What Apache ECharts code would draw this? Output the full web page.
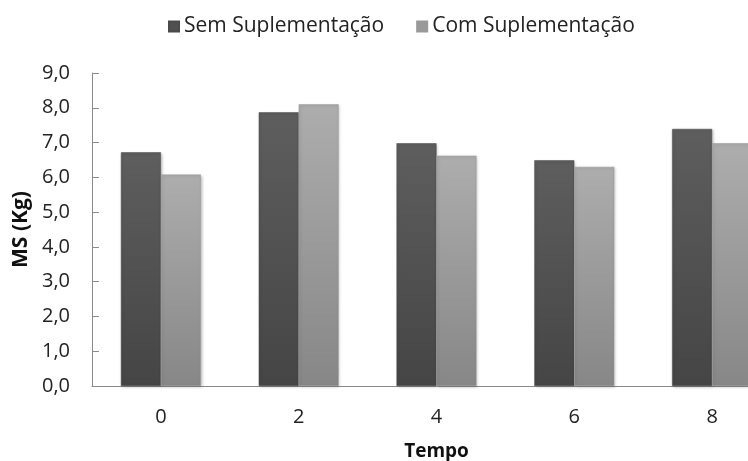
<!DOCTYPE html>
<html>
<head>
<meta charset="utf-8">
<script src="https://cdn.jsdelivr.net/npm/echarts@6/dist/echarts.min.js"></script>
<style>
  html, body { margin: 0; padding: 0; background: #fff; overflow: hidden; }
  /* o grafico original esta cortado a direita: a area continua alem da janela */
  #chart { width: 781px; height: 461px; }
</style>
</head>
<body>
<div id="chart"></div>
<script>
// tempos e valores
var categorias = ["0", "2", "4", "6", "8"];
var semSuplementacao = [6.72, 7.87, 6.98, 6.49, 7.39];
var comSuplementacao = [6.08, 8.10, 6.62, 6.30, 6.98];
var nomesSeries = ["Sem Suplementação", "Com Suplementação"];

var fonte = "'Open Sans', sans-serif";

function gradiente(topo, base) {
  return new echarts.graphic.LinearGradient(0, 0, 0, 1, [
    { offset: 0, color: topo },
    { offset: 1, color: base }
  ]);
}

var chart = echarts.init(document.getElementById("chart"));

var option = {
  animation: false,
  textStyle: { fontFamily: fonte },
  legend: {
    top: 16,
    left: 168,
    padding: 0,
    itemWidth: 10,
    itemHeight: 10,
    itemGap: 32,
    icon: "rect",
    textStyle: { fontSize: 21, color: "#222", fontFamily: fonte },
    data: [
      { name: nomesSeries[0], itemStyle: { color: "#505050" } },
      { name: nomesSeries[1], itemStyle: { color: "#9a9a9a" } }
    ]
  },
  grid: { left: 92, top: 73, right: 0, height: 313, outerBoundsMode: "none" },
  xAxis: {
    type: "category",
    data: categorias,
    name: "Tempo",
    nameLocation: "middle",
    nameGap: 56,
    nameTextStyle: { fontSize: 19, fontWeight: "bold", color: "#111" },
    axisLine: { lineStyle: { color: "#8a8a8a" } },
    axisTick: { inside: true, length: 7, lineStyle: { color: "#8a8a8a" } },
    axisLabel: { fontSize: 20, color: "#222", margin: 21 }
  },
  yAxis: {
    type: "value",
    min: 0,
    max: 9,
    interval: 1,
    name: "MS (Kg)",
    nameLocation: "middle",
    nameGap: 60,
    nameTextStyle: { fontSize: 21, fontWeight: "bold", color: "#111" },
    axisLine: { show: true, lineStyle: { color: "#8a8a8a" } },
    axisTick: { show: true, inside: true, length: 7, lineStyle: { color: "#8a8a8a" } },
    splitLine: { show: false },
    axisLabel: {
      fontSize: 20,
      color: "#222",
      margin: 22,
      formatter: function (v) { return v.toFixed(1).replace(".", ","); }
    }
  },
  series: [
    {
      name: nomesSeries[0],
      type: "bar",
      data: semSuplementacao,
      barGap: "0%",
      barCategoryGap: "42%",
      itemStyle: {
        color: gradiente("#5e5e5e", "#454545"),
        borderColor: "#4a4a4a",
        borderWidth: 0.5,
        shadowColor: "rgba(0,0,0,0.25)",
        shadowBlur: 3,
        shadowOffsetX: 1,
        shadowOffsetY: 1
      }
    },
    {
      name: nomesSeries[1],
      type: "bar",
      data: comSuplementacao,
      itemStyle: {
        color: gradiente("#adadad", "#878787"),
        borderColor: "#999999",
        borderWidth: 0.5,
        shadowColor: "rgba(0,0,0,0.25)",
        shadowBlur: 3,
        shadowOffsetX: 1,
        shadowOffsetY: 1
      }
    }
  ]
};

chart.setOption(option);
</script>
</body>
</html>
